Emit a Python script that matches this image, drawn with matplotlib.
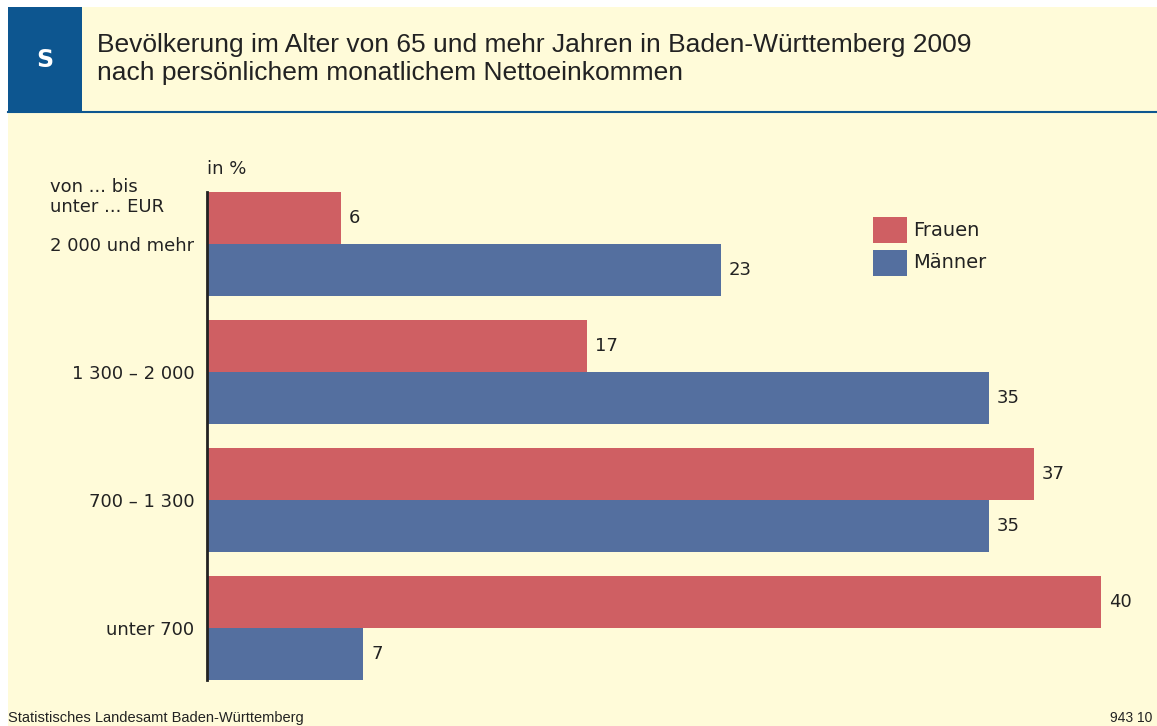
import numpy as np
import matplotlib.pyplot as plt
from matplotlib.patches import Rectangle
from matplotlib.lines import Line2D

# Daten
kategorien = ['2 000 und mehr', '1 300 – 2 000', '700 – 1 300', 'unter 700']
frauen = [6, 17, 37, 40]
maenner = [23, 35, 35, 7]
serien = ['Frauen', 'Männer']

W, H = 1157, 726
bg = '#FFFBD9'
rot = '#CF5F63'
blau = '#546F9F'
kopfblau = '#0D5690'
fs = 13

fig = plt.figure(figsize=(W / 100, H / 100), dpi=100, facecolor='white')

def fx(px):
    return px / W

def fy(py):
    return 1 - py / H

# Hintergrund
fig.patches.append(Rectangle((fx(8), 0), fx(W - 8), fy(7), transform=fig.transFigure,
                             facecolor=bg, edgecolor='none', zorder=0))
fig.patches.append(Rectangle((fx(8), fy(112)), fx(74), fy(7) - fy(112), transform=fig.transFigure,
                             facecolor=kopfblau, edgecolor='none', zorder=1))
fig.lines.append(Line2D([fx(8), 1], [fy(112), fy(112)], transform=fig.transFigure,
                        color=kopfblau, lw=1.5, zorder=2))

fig.text(fx(45), fy(60), 'S', color='white', fontsize=17, fontweight='bold',
         ha='center', va='center', family='DejaVu Sans')
fig.text(fx(97), fy(45), 'Bevölkerung im Alter von 65 und mehr Jahren in Baden-Württemberg 2009',
         fontsize=19, ha='left', va='center', color='#222222', family='Liberation Sans')
fig.text(fx(97), fy(73), 'nach persönlichem monatlichem Nettoeinkommen',
         fontsize=19, ha='left', va='center', color='#222222', family='Liberation Sans')

# Achsen
px_per_unit = (1101 - 207) / 40
ax = fig.add_axes([fx(207), fy(680), fx(W - 207), fy(192) - fy(680)])
ax.set_zorder(5)
ax.set_facecolor('none')
y = np.arange(len(kategorien))
h = 52 / 128
ax.barh(y - h / 2, frauen, height=h, color=rot, label=serien[0])
ax.barh(y + h / 2, maenner, height=h, color=blau, label=serien[1])
ax.set_xlim(0, (W - 207) / px_per_unit)
ax.set_ylim(len(kategorien) - 1 + h, -h)

for i in range(len(kategorien)):
    ax.text(frauen[i] + 0.35, y[i] - h / 2, str(frauen[i]), va='center', ha='left',
            fontsize=fs, color='#222222')
    ax.text(maenner[i] + 0.35, y[i] + h / 2, str(maenner[i]), va='center', ha='left',
            fontsize=fs, color='#222222')

ax.set_yticks(y)
ax.set_yticklabels(kategorien, fontsize=fs, color='#222222')
ax.tick_params(axis='y', length=0, pad=9)
ax.set_xticks([])
for s in ['top', 'right', 'bottom']:
    ax.spines[s].set_visible(False)
ax.spines['left'].set_linewidth(2)
ax.spines['left'].set_color('#222222')

fig.text(fx(207), fy(169), 'in %', fontsize=fs, ha='left', va='center', color='#222222')
fig.text(fx(50), fy(187), 'von ... bis', fontsize=fs, ha='left', va='center', color='#222222')
fig.text(fx(50), fy(207), 'unter ... EUR', fontsize=fs, ha='left', va='center', color='#222222')

# Legende
for k, (name, farbe) in enumerate(zip(serien, [rot, blau])):
    top = 217 + k * 33
    fig.patches.append(Rectangle((fx(873), fy(top + 26)), fx(34), fy(top) - fy(top + 26),
                                 transform=fig.transFigure, facecolor=farbe, edgecolor='none'))
    fig.text(fx(913), fy(top + 13), name, fontsize=14, ha='left', va='center', color='#222222')

fig.text(fx(8), fy(718), 'Statistisches Landesamt Baden-Württemberg', fontsize=10.5,
         ha='left', va='center', color='#222222', family='Liberation Sans')
fig.text(fx(1152), fy(718), '943 10', fontsize=10, ha='right', va='center', color='#222222',
         family='Liberation Sans')

fig.savefig('out.png', dpi=100, facecolor='white')
